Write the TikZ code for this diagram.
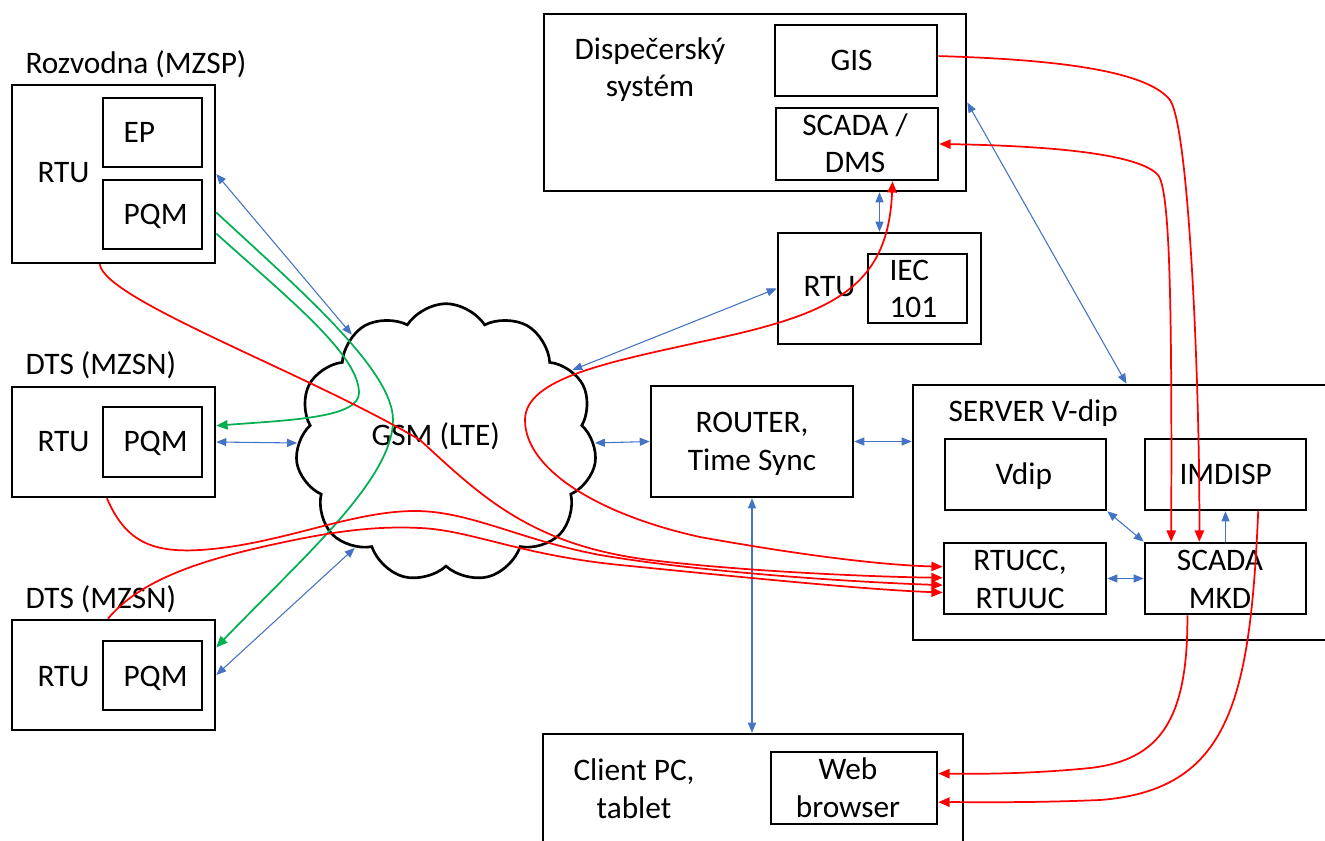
\documentclass[tikz,border=0pt]{standalone}
\usepackage{fontspec}
\setmainfont{Carlito}
\usetikzlibrary{arrows.meta,shapes.symbols,fit,calc}

\definecolor{modra}{RGB}{68,114,196}
\definecolor{cervena}{RGB}{255,0,0}
\definecolor{zelena}{RGB}{0,176,80}

\tikzset{every picture/.style={line width=0.75pt}}
\tikzset{
  box/.style={draw, line width=1.9pt, inner sep=0pt},
  txt/.style={inner sep=0pt, font=\fontsize{23.5}{27.8}\selectfont},
  modrat/.style={draw=modra, line width=0.8pt, >={Triangle[length=7.5pt,width=6pt]}},
  cervt/.style={draw=cervena, line width=1.3pt, >={Triangle[length=8.5pt,width=7pt]}},
  zelt/.style={draw=zelena, line width=1.3pt, >={Triangle[length=8.5pt,width=7pt]}}
}

\begin{document}
\begin{tikzpicture}[x=0.75pt,y=0.75pt,yscale=-1,xscale=1]
\useasboundingbox (0,0) rectangle (1325,841);

%Shape: Cloud
\node [cloud, draw, line width=2pt, cloud puffs=11, cloud puff arc=115, cloud ignores aspect, minimum width=226pt, minimum height=209pt, inner sep=0pt] (gsm) at (446,443) {};
% Text Node
\node [txt, anchor=base west] (gsmlbl) at (371,446) {GSM (LTE)};

%Shape: Rectangle
\node [box, fit={(12,85) (215,263)}] (rozv) {};
\node [box, fit={(103,98) (202,167)}] (ep) {};
\node [box, fit={(103,180) (202,249)}] (pqma) {};
% Text Node
\node [txt, anchor=base west] (rozvlbl) at (25,74) {Rozvodna (MZSP)};
\node [txt, anchor=base west] (rtualbl) at (37,183) {RTU};
\node [txt, anchor=base west] (eplbl) at (123,143) {EP};
\node [txt, anchor=base west] (pqmalbl) at (123,225) {PQM};

%Shape: Rectangle
\node [box, fit={(12,387) (215,497)}] (dtsa) {};
\node [box, fit={(103,407) (202,477)}] (pqmb) {};
% Text Node
\node [txt, anchor=base west] (dtsalbl) at (25,375) {DTS (MZSN)};
\node [txt, anchor=base west] (rtublbl) at (37,452) {RTU};
\node [txt, anchor=base west] (pqmblbl) at (123,452) {PQM};

%Shape: Rectangle
\node [box, fit={(12,620) (215,730)}] (dtsb) {};
\node [box, fit={(103,641) (202,710)}] (pqmc) {};
% Text Node
\node [txt, anchor=base west] (dtsblbl) at (25,608) {DTS (MZSN)};
\node [txt, anchor=base west] (rtuclbl) at (37,686) {RTU};
\node [txt, anchor=base west] (pqmclbl) at (123,686) {PQM};

%Shape: Rectangle
\node [box, fit={(544,14) (966,191)}] (disp) {};
\node [box, fit={(775,25) (937,96)}] (gis) {};
\node [box, fit={(776,108) (938,180)}] (scadadms) {};
% Text Node
\node [txt, align=center, anchor=base] (displbl) at (650,97) {Dispečerský\\systém};
\node [txt, anchor=base west] (gislbl) at (830,71) {GIS};
\node [txt, align=center, anchor=base] (scadadmslbl) at (855,173) {SCADA /\\DMS};

%Shape: Rectangle
\node [box, fit={(778,233) (981,344)}] (rtuiec) {};
\node [box, fit={(868,254) (967,323)}] (iec) {};
% Text Node
\node [txt, anchor=base west] (rtuieclbl) at (803,297) {RTU};
\node [txt, align=left, anchor=base west] (ieclbl) at (889,318) {IEC\\101};

%Shape: Rectangle
\node [box, fit={(651,386) (853,497)}] (router) {};
% Text Node
\node [txt, align=center, anchor=base] (routerlbl) at (752,470) {ROUTER,\\Time Sync};

%Shape: Rectangle
\node [box, fit={(913,385) (1340,640)}] (server) {};
\node [box, fit={(945,439) (1106,510)}] (vdip) {};
\node [box, fit={(1145,439) (1306,510)}] (imdisp) {};
\node [box, fit={(944,543) (1106,614)}] (rtucc) {};
\node [box, fit={(1145,543) (1306,614)}] (scadamkd) {};
% Text Node
\node [txt, anchor=base west] (serverlbl) at (948,422) {SERVER V-dip};
\node [txt, anchor=base west] (vdiplbl) at (995,484) {Vdip};
\node [txt, anchor=base west] (imdisplbl) at (1179,484) {IMDISP};
\node [txt, align=center, anchor=base] (rtucclbl) at (1020,608) {RTUCC,\\RTUUC};
\node [txt, align=center, anchor=base] (scadamkdlbl) at (1220,608) {SCADA\\MKD};

%Shape: Rectangle
\node [box, fit={(543,734) (963,850)}] (client) {};
\node [box, fit={(771,752) (937,824)}] (webbr) {};
% Text Node
\node [txt, align=center, anchor=base] (clientlbl) at (634,818) {Client PC,\\tablet};
\node [txt, align=center, anchor=base] (webbrlbl) at (848,817) {Web\\browser};

%Straight Lines
\draw [modrat, <->] (rozv.east) -- (gsm.131);
\draw [modrat, <->] (dtsa.east) -- (gsm.west);
\draw [modrat, <->] (dtsb.east) -- (gsm.229);
\draw [modrat, <->] (gsm.30) -- (rtuiec.west);
\draw [modrat, <->] (gsm.east) -- (router.west);
\draw [modrat, <->] (router.east) -- (router.east -| server.west);
\draw [modrat, <->] (router.south) -- (router.south |- client.north);
\draw [modrat, <->] (rtuiec.north |- disp.south) -- (rtuiec.north);
\draw [modrat, <->] (disp.east) -- (server.north);
\draw [modrat, <->] (vdip.south east) -- (scadamkd.north west);
\draw [modrat, <->] (rtucc.east) -- (scadamkd.west);
\draw [modrat, ->] (scadamkd.north) -- (imdisp.south);

%Curve Lines
\draw [zelt, ->] ($(rozv.north east)!0.83!(rozv.south east)$) .. controls (290,300) and (359,355) .. (359,393) .. controls (359,418) and (290,420) .. ($(dtsa.north east)!0.355!(dtsa.south east)$);
\draw [zelt, ->] ($(rozv.north east)!0.713!(rozv.south east)$) .. controls (300,290) and (393,370) .. (393,420) .. controls (393,480) and (300,560) .. ($(dtsb.north east)!0.255!(dtsb.south east)$);

%Curve Lines
\draw [cervt, ->] ($(rozv.south west)!0.433!(rozv.south east)$) .. controls (105,300) and (305,372) .. (420,440) .. controls (480,495) and (530,545) .. (650,560) .. controls (750,572) and (880,577) .. ($(rtucc.north west)!0.49!(rtucc.south west)$);
\draw [cervt, ->] ($(dtsa.south west)!0.468!(dtsa.south east)$) .. controls (125,540) and (150,553) .. (200,550) .. controls (280,545) and (350,511) .. (415,511) .. controls (470,511) and (520,540) .. (600,555) .. controls (700,572) and (850,582) .. ($(rtucc.north west)!0.59!(rtucc.south west)$);
\draw [cervt, ->] ($(dtsb.north west)!0.473!(dtsb.north east)$) .. controls (140,580) and (200,560) .. (280,543) .. controls (340,530) and (380,526) .. (420,528) .. controls (470,530) and (520,555) .. (620,565) .. controls (750,578) and (870,590) .. ($(rtucc.north west)!0.69!(rtucc.south west)$);
\draw [cervt, <->] ($(scadadms.south west)!0.716!(scadadms.south east)$) .. controls (888,290) and (830,315) .. (700,342) .. controls (610,362) and (525,378) .. (525,420) .. controls (525,470) and (600,515) .. (700,537) .. controls (800,555) and (880,565) .. ($(rtucc.north west)!0.34!(rtucc.south west)$);
\draw [cervt, ->] ($(gis.north east)!0.44!(gis.south east)$) .. controls (1080,60) and (1150,75) .. (1170,100) .. controls (1190,130) and (1200,400) .. ($(scadamkd.north west)!0.34!(scadamkd.north east)$);
\draw [cervt, <->] (scadadms.east) .. controls (1060,146) and (1140,155) .. (1158,175) .. controls (1170,190) and (1172,300) .. ($(scadamkd.north west)!0.168!(scadamkd.north east)$);
\draw [cervt, ->] ($(scadamkd.south west)!0.267!(scadamkd.south east)$) .. controls (1188,720) and (1160,760) .. (1090,768) .. controls (1030,774) and (980,774) .. ($(webbr.north east)!0.306!(webbr.south east)$);
\draw [cervt, ->] ($(imdisp.south west)!0.70!(imdisp.south east)$) .. controls (1250,700) and (1230,790) .. (1100,800) .. controls (1030,803) and (980,802) .. ($(webbr.north east)!0.69!(webbr.south east)$);

\end{tikzpicture}
\end{document}
